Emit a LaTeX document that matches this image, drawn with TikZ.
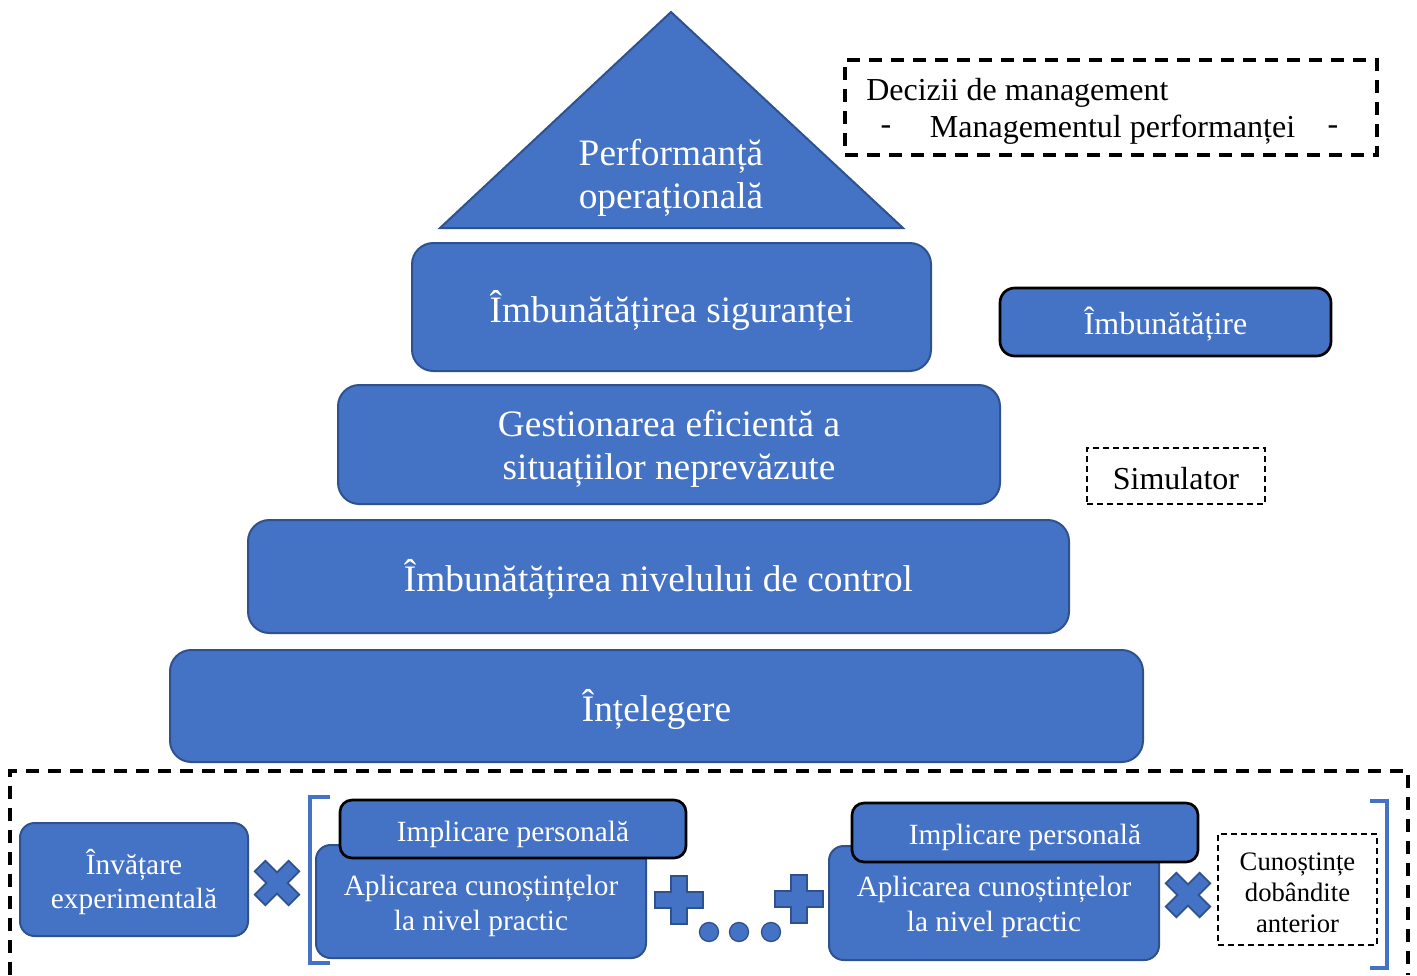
\documentclass[tikz,border=0pt]{standalone}
\usepackage{fontspec}
\setmainfont{Liberation Serif}
\definecolor{fillb}{HTML}{4472C4}
\definecolor{edgeb}{HTML}{2F528F}
\tikzset{
  pyrbox/.style={draw=edgeb, line width=1.5pt, fill=fillb, rounded corners=16pt},
  smallbox/.style={draw=edgeb, line width=1.5pt, fill=fillb, rounded corners=11pt},
  blkbox/.style={draw=black, line width=2pt, fill=fillb, rounded corners=9pt},
  dashbig/.style={draw=black, line width=2.6pt, dash pattern=on 10pt off 6.5pt},
  dashsmall/.style={draw=black, line width=1.1pt, dash pattern=on 4.5pt off 3pt},
  symb/.style={draw=edgeb, line width=1.3pt, fill=fillb},
  brk/.style={draw=fillb, line width=3pt},
  wlbl/.style={inner sep=0pt, text=white, align=center},
  bigfont/.style={font=\fontsize{28}{32.25}\selectfont},
  midfont/.style={font=\fontsize{24}{28}\selectfont},
  smfont/.style={font=\fontsize{22}{26}\selectfont},
  txt/.style={inner sep=0pt, text=black}
}
\newcommand{\plussym}[4]{% center x, center y, half-size, half-thickness
  \draw[symb, shift={(#1,#2)}] (-#4,-#3) -- (#4,-#3) -- (#4,-#4) -- (#3,-#4) -- (#3,#4) -- (#4,#4) -- (#4,#3) -- (-#4,#3) -- (-#4,#4) -- (-#3,#4) -- (-#3,-#4) -- (-#4,-#4) -- cycle;}
\newcommand{\crosssym}[4]{%
  \draw[symb, shift={(#1,#2)}, rotate=45] (-#4,-#3) -- (#4,-#3) -- (#4,-#4) -- (#3,-#4) -- (#3,#4) -- (#4,#4) -- (#4,#3) -- (-#4,#3) -- (-#4,#4) -- (-#3,#4) -- (-#3,-#4) -- (-#4,-#4) -- cycle;}
\begin{document}
\begin{tikzpicture}[x=0.75pt,y=-0.75pt]
\useasboundingbox (0,0) rectangle (1417,975);
% pyramid top
\draw[draw=edgeb, line width=1.5pt, fill=fillb] (671,12) coordinate (apex) -- (903,228) coordinate (br) -- (440,228) coordinate (bl) -- cycle;
\node[wlbl, bigfont] (perf) at (671,178) {Performanță\\operațională};
% pyramid levels
\node[pyrbox, minimum width=389.25pt, minimum height=96pt] (sig) at (671.5,307) {};
\node[wlbl, bigfont] (sigt) at ([yshift=-2.5pt]sig.center) {Îmbunătățirea siguranței};
\node[pyrbox, minimum width=496.5pt, minimum height=89.25pt] (gest) at (669,444.5) {};
\node[wlbl, bigfont] (gestt) at ([yshift=-3pt]gest.center) {Gestionarea eficientă a\\situațiilor neprevăzute};
\node[pyrbox, minimum width=615.75pt, minimum height=84.75pt] (ctrl) at (658.5,576.5) {};
\node[wlbl, bigfont] (ctrlt) at ([yshift=-2.5pt]ctrl.center) {Îmbunătățirea nivelului de control};
\node[pyrbox, minimum width=729.75pt, minimum height=84pt] (intel) at (656.5,706) {};
\node[wlbl, bigfont] (intelt) at ([yshift=-2.5pt]intel.center) {Înțelegere};
% top right dashed box
\node[dashbig, minimum width=399pt, minimum height=71.25pt] (dec) at (1111,107.5) {};
\node[txt, anchor=west, midfont] (dec1) at (866,93) {Decizii de management};
\node[txt, midfont] (d1) at (886,130) {-};
\node[txt, midfont] (mp) at (1112.5,130) {Managementul performanței};
\node[txt, midfont] (d2) at (1333,130) {-};
% right side boxes
\node[blkbox, rounded corners=11pt, minimum width=248.25pt, minimum height=51pt] (imb) at (1165.5,322) {};
\node[wlbl, midfont] (imbt) at ([yshift=-1.5pt]imb.center) {Îmbunătățire};
\node[dashsmall, minimum width=133.5pt, minimum height=42pt] (sim) at (1176,476) {};
\node[txt, midfont] (simt) at ([yshift=-2pt]sim.center) {Simulator};
% bottom dashed region
\draw[dashbig] (10,975) coordinate (bl0) -- (10,771) coordinate (tl0) -- (1408,771) coordinate (tr0) -- (1408,975) coordinate (br0);
\node[smallbox, minimum width=171pt, minimum height=84.75pt] (inv) at (134,879.5) {};
\node[wlbl, smfont] (invt) at ([yshift=-2pt]inv.center) {Învățare\\experimentală};
\crosssym{277}{883}{24}{7.5}
% left bracket
\draw[brk] (330,797) coordinate (lb1) -- (310,797) -- (310,963) -- (330,963) coordinate (lb2);
\node[smallbox, minimum width=247.5pt, minimum height=84.75pt] (apl1) at (481,901.5) {};
\node[wlbl, smfont] (apl1t) at (481,906) {Aplicarea cunoștințelor\\la nivel practic};
\node[blkbox, minimum width=259.5pt, minimum height=43.5pt] (imp1) at (513,829) {};
\node[wlbl, smfont] (imp1t) at ([yshift=-4pt]imp1.center) {Implicare personală};
\plussym{679}{900}{24}{8}
\fill[fillb, draw=edgeb, line width=1pt] (709,932) circle (9.5) coordinate (c1);
\fill[fillb, draw=edgeb, line width=1pt] (739,932) circle (9.5) coordinate (c2);
\fill[fillb, draw=edgeb, line width=1pt] (771,932) circle (9.5) coordinate (c3);
\plussym{799}{899}{24}{8}
\node[smallbox, minimum width=247.5pt, minimum height=85.5pt] (apl2) at (994,903) {};
\node[wlbl, smfont] (apl2t) at (994,907) {Aplicarea cunoștințelor\\la nivel practic};
\node[blkbox, minimum width=259.5pt, minimum height=44.25pt] (imp2) at (1025,832.5) {};
\node[wlbl, smfont] (imp2t) at ([yshift=-4pt]imp2.center) {Implicare personală};
\crosssym{1188}{895}{24}{7.5}
\node[dashsmall, minimum width=119.25pt, minimum height=83.25pt] (cun) at (1297.5,889.5) {};
\node[txt, align=center, font=\fontsize{20}{23.25}\selectfont] (cunt) at ([yshift=-2.5pt]cun.center) {Cunoștințe\\dobândite\\anterior};
% right bracket
\draw[brk] (1370,801) coordinate (rb1) -- (1387,801) -- (1387,968) -- (1370,968) coordinate (rb2);
\end{tikzpicture}
\end{document}
